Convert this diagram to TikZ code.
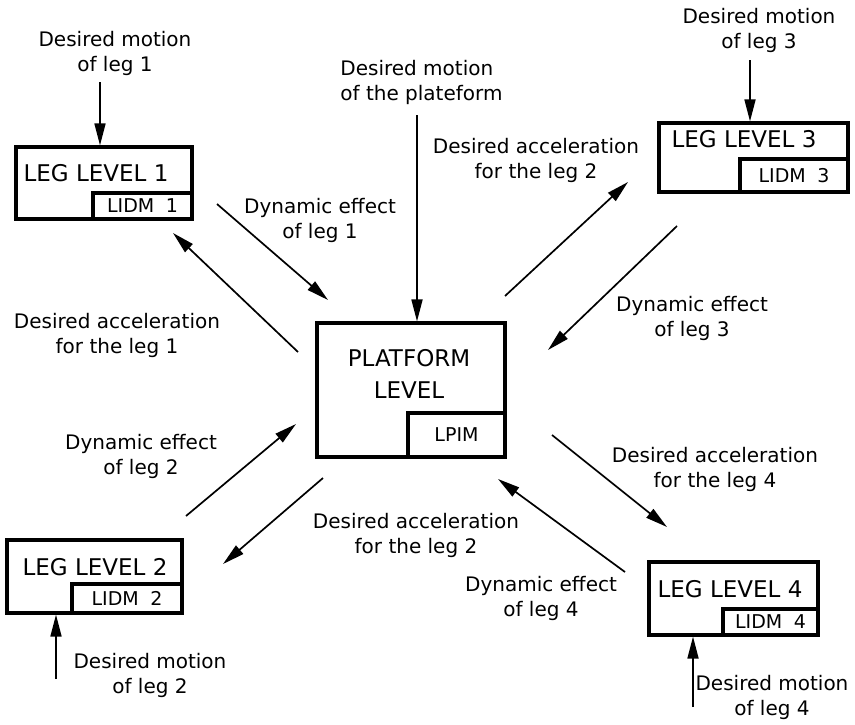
\documentclass[tikz,border=0pt]{standalone}
\usepackage{fontspec}
\setmainfont{DejaVu Sans}
\usetikzlibrary{arrows.meta, positioning}

\begin{document}
\begin{tikzpicture}[
  x=0.5pt, y=-0.5pt,
  every node/.style={font=\fontsize{10}{12.5}\selectfont},
  % Styles
  level/.style={rectangle, draw, line width=1.6pt, inner sep=0pt},
  lidm/.style={rectangle, draw, line width=1.6pt, inner sep=0pt, font=\fontsize{9.5}{11}\selectfont},
  title/.style={font=\fontsize{11.5}{16}\selectfont, inner sep=0pt},
  lbl/.style={align=center, inner sep=0pt},
  arr/.style={-{Triangle[length=11pt, width=5.5pt]}, line width=0.85pt},
]

  \useasboundingbox (0,0) rectangle (855,724);

  % ── PLATFORM LEVEL ────────────────────────────────────────
  \node[level, minimum width=94pt, minimum height=67pt] (plat) at (411,390) {};
  \node[lidm, minimum width=48.5pt, minimum height=22pt, above left=0pt and 0pt of plat.south east] (lpim) {LPIM};
  \node[title, align=center] (plattitle) at (409,374) {PLATFORM\\LEVEL};

  % ── LEG LEVELS ────────────────────────────────────────────
  % Leg 1
  \node[level, minimum width=88pt, minimum height=36pt] (leg1) at (104,183) {};
  \node[lidm, minimum width=49.5pt, minimum height=13pt, above left=0pt and 0pt of leg1.south east] (lidm1) {LIDM\hspace{0.6em}1};
  \node[title] (leg1title) at (96,173) {LEG LEVEL 1};

  % Leg 3
  \node[level, minimum width=94.5pt, minimum height=34.5pt] (leg3) at (753.5,157.5) {};
  \node[lidm, minimum width=54pt, minimum height=16.5pt, above left=0pt and 0pt of leg3.south east] (lidm3) {LIDM\hspace{0.6em}3};
  \node[title] (leg3title) at (744,139) {LEG LEVEL 3};

  % Leg 2
  \node[level, minimum width=87.5pt, minimum height=36.5pt] (leg2) at (94.5,576.5) {};
  \node[lidm, minimum width=55pt, minimum height=14.5pt, above left=0pt and 0pt of leg2.south east] (lidm2) {LIDM\hspace{0.6em}2};
  \node[title] (leg2title) at (95,567) {LEG LEVEL 2};

  % Leg 4
  \node[level, minimum width=84.5pt, minimum height=36.5pt] (leg4) at (733.5,598.5) {};
  \node[lidm, minimum width=47.5pt, minimum height=13pt, above left=0pt and 0pt of leg4.south east] (lidm4) {LIDM\hspace{0.6em}4};
  \node[title] (leg4title) at (730,589) {LEG LEVEL 4};

  % ── DESIRED MOTIONS ───────────────────────────────────────
  \node[lbl] (m1) at (115,53) {Desired motion\\of leg 1};
  \node[lbl, align=left, anchor=west] (mp) at (340,82.5) {Desired motion\\of the plateform};
  \node[lbl] (m3) at (759,30) {Desired motion\\of leg 3};
  \node[lbl] (m2) at (150,675) {Desired motion\\of leg 2};
  \node[lbl] (m4) at (772,697) {Desired motion\\of leg 4};

  \coordinate (m1a) at (100,82);
  \coordinate (mpa) at (417,115);
  \coordinate (m3a) at (750,60);
  \coordinate (m2a) at (56,679);
  \coordinate (m4a) at (693,707);

  \draw[arr] (m1a) -- (m1a |- leg1.north);
  \draw[arr] (mpa) -- (mpa |- plat.north);
  \draw[arr] (m3a) -- (m3a |- leg3.north);
  \draw[arr] (m2a) -- (m2a |- leg2.south);
  \draw[arr] (m4a) -- (m4a |- leg4.south);

  % ── EXCHANGES WITH THE PLATFORM ───────────────────────────
  \node[lbl] (dyn1) at (320,220) {Dynamic effect\\of leg 1};
  \node[lbl] (acc1) at (117,335) {Desired acceleration\\for the leg 1};
  \node[lbl] (acc3) at (536,160) {Desired acceleration\\for the leg 2};
  \node[lbl] (dyn3) at (692,318) {Dynamic effect\\of leg 3};
  \node[lbl] (dyn2) at (141,456) {Dynamic effect\\of leg 2};
  \node[lbl] (acc2) at (416,535) {Desired acceleration\\for the leg 2};
  \node[lbl] (acc4) at (715,469) {Desired acceleration\\for the leg 4};
  \node[lbl] (dyn4) at (541,598) {Dynamic effect\\of leg 4};

  \coordinate (dyn1a) at (217,204);  \coordinate (dyn1b) at (328,300);
  \coordinate (acc1a) at (298,352);  \coordinate (acc1b) at (173,233);
  \coordinate (acc3a) at (505,296);  \coordinate (acc3b) at (628,182);
  \coordinate (dyn3a) at (677,226);  \coordinate (dyn3b) at (548,350);
  \coordinate (dyn2a) at (186,516);  \coordinate (dyn2b) at (296,424);
  \coordinate (acc2a) at (323,478);  \coordinate (acc2b) at (223,564);
  \coordinate (acc4a) at (552,435);  \coordinate (acc4b) at (667,527);
  \coordinate (dyn4a) at (625,572);  \coordinate (dyn4b) at (498,479);

  \draw[arr] (dyn1a) -- (dyn1b);
  \draw[arr] (acc1a) -- (acc1b);
  \draw[arr] (acc3a) -- (acc3b);
  \draw[arr] (dyn3a) -- (dyn3b);
  \draw[arr] (dyn2a) -- (dyn2b);
  \draw[arr] (acc2a) -- (acc2b);
  \draw[arr] (acc4a) -- (acc4b);
  \draw[arr] (dyn4a) -- (dyn4b);

\end{tikzpicture}
\end{document}
